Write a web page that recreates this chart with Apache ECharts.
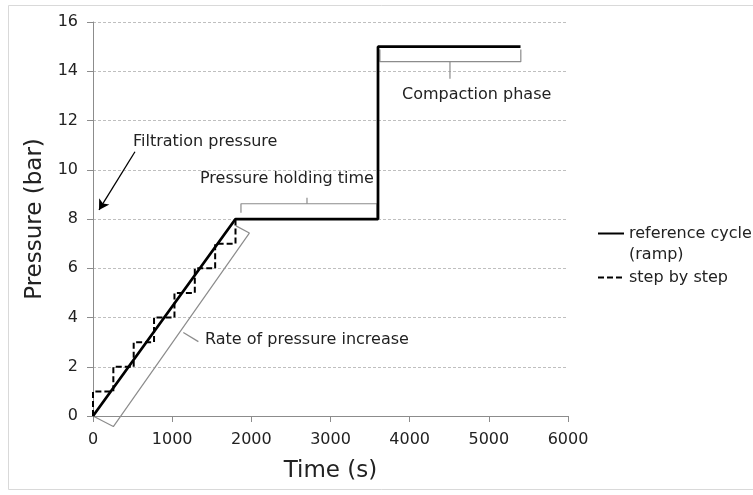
<!DOCTYPE html>
<html><head><meta charset="utf-8">
<script src="https://cdn.jsdelivr.net/npm/echarts@6/dist/echarts.min.js"></script>
<style>html,body{margin:0;padding:0;background:#fff}#c{width:753px;height:495px}</style>
</head><body><div id="c"></div>
<script>
// ---- data (time in s, pressure in bar) ----
const rampX = [0, 1800, 3600, 3600, 5400];
const rampY = [0, 8, 8, 15, 15];
const stepX = [0, 0, 257, 257, 514, 514, 771, 771, 1029, 1029, 1286, 1286, 1543, 1543, 1800, 1800];
const stepY = [0, 1, 1, 2, 2, 3, 3, 4, 4, 5, 5, 6, 6, 7, 7, 8];
const xTicks = [0, 1000, 2000, 3000, 4000, 5000, 6000];
const yTicks = [0, 2, 4, 6, 8, 10, 12, 14, 16];
const seriesNames = ['reference cycle\n(ramp)', 'step by step'];
// annotation brackets (data coordinates)
const holdBracket = [[1869, 8.25], [1869, 8.62], [3586, 8.62], [3586, 8.05]];
const holdTick = [[2703, 8.62], [2703, 8.86]];
const compBracket = [[3624, 14.88], [3624, 14.39], [5404, 14.39], [5404, 14.88]];
const compTick = [[4509, 14.39], [4509, 13.7]];
const rateBracket = [[0, 0], [257, -0.43], [1975, 7.43], [1806, 7.72]];
const rateTick = [[1141, 3.39], [1331, 3.02]];
const filtrArrow = [[530, 10.73], [76, 8.37]];
const labels = ['Filtration pressure', 'Pressure holding time', 'Rate of pressure increase', 'Compaction phase'];

const zip = (xs, ys) => xs.map((x, i) => [x, ys[i]]);
const FONT = 'DejaVu Sans';
const TXT = '#222';
const annot = (data) => ({
  type: 'line', data: data, symbol: 'none', silent: true, clip: false, z: 1,
  lineStyle: { color: '#8c8c8c', width: 1.2 }, itemStyle: { color: '#8c8c8c' }, animation: false
});

const chart = echarts.init(document.getElementById('c'));
chart.setOption({
  animation: false,
  backgroundColor: '#fff',
  textStyle: { fontFamily: FONT },
  grid: { left: 93, right: 185, top: 22, bottom: 79 },
  xAxis: {
    type: 'value', min: xTicks[0], max: xTicks[xTicks.length - 1], interval: 1000,
    name: 'Time (s)', nameLocation: 'middle', nameGap: 44,
    nameTextStyle: { fontSize: 23, color: TXT, fontFamily: FONT },
    axisLine: { show: true, lineStyle: { color: '#8c8c8c', width: 1 } },
    axisTick: { show: true, length: 6, lineStyle: { color: '#8c8c8c' } },
    axisLabel: { fontSize: 16, color: TXT, margin: 16, fontFamily: FONT, formatter: v => String(v) },
    splitLine: { show: false }
  },
  yAxis: {
    type: 'value', min: yTicks[0], max: yTicks[yTicks.length - 1], interval: 2,
    name: 'Pressure (bar)', nameLocation: 'middle', nameGap: 37,
    nameTextStyle: { fontSize: 23, color: TXT, fontFamily: FONT },
    axisLine: { show: true, lineStyle: { color: '#8c8c8c', width: 1 } },
    axisTick: { show: true, length: 6, lineStyle: { color: '#8c8c8c' } },
    axisLabel: { fontSize: 16, color: TXT, margin: 15, fontFamily: FONT, formatter: v => String(v) },
    splitLine: { show: true, lineStyle: { color: '#bfbfbf', type: [3, 2], width: 1 } }
  },
  legend: {
    data: seriesNames, orient: 'vertical', left: 597, top: 202, padding: 0,
    itemWidth: 26, itemHeight: 14, itemGap: 2, selectedMode: false,
    itemStyle: { opacity: 0 },
    formatter: name => (name === seriesNames[0] ? '\n' + name : name),
    textStyle: { fontSize: 16, color: TXT, fontFamily: FONT, lineHeight: 21 }
  },
  series: [
    annot(holdBracket), annot(holdTick), annot(compBracket), annot(compTick),
    annot(rateBracket), annot(rateTick),
    {
      type: 'line', data: [], silent: true, symbol: 'none', z: 3,
      markLine: {
        silent: true, symbol: ['none', 'arrow'], symbolSize: [9, 10], animation: false,
        label: { show: false },
        lineStyle: { color: '#000', width: 1.3, type: 'solid' },
        data: [[{ coord: filtrArrow[0] }, { coord: filtrArrow[1] }]]
      }
    },
    {
      name: seriesNames[1], type: 'line', data: zip(stepX, stepY), symbol: 'none', z: 4,
      lineStyle: { color: '#000', width: 2, type: [6, 3] }, itemStyle: { color: '#000' }
    },
    {
      name: seriesNames[0], type: 'line', data: zip(rampX, rampY), symbol: 'none', z: 5,
      lineStyle: { color: '#000', width: 2.75 }, itemStyle: { color: '#000' }
    }
  ],
  graphic: [
    { type: 'rect', silent: true, shape: { x: 8.5, y: 5.5, width: 760, height: 484 },
      style: { fill: 'none', stroke: '#d9d9d9', lineWidth: 1 } },
    { type: 'text', x: 133, y: 142, style: { text: labels[0], font: '16px "DejaVu Sans"', fill: TXT, verticalAlign: 'middle' } },
    { type: 'text', x: 200, y: 179, style: { text: labels[1], font: '16px "DejaVu Sans"', fill: TXT, verticalAlign: 'middle' } },
    { type: 'text', x: 205, y: 340, style: { text: labels[2], font: '16px "DejaVu Sans"', fill: TXT, verticalAlign: 'middle' } },
    { type: 'text', x: 402, y: 95, style: { text: labels[3], font: '16px "DejaVu Sans"', fill: TXT, verticalAlign: 'middle' } }
  ]
});
</script></body></html>
